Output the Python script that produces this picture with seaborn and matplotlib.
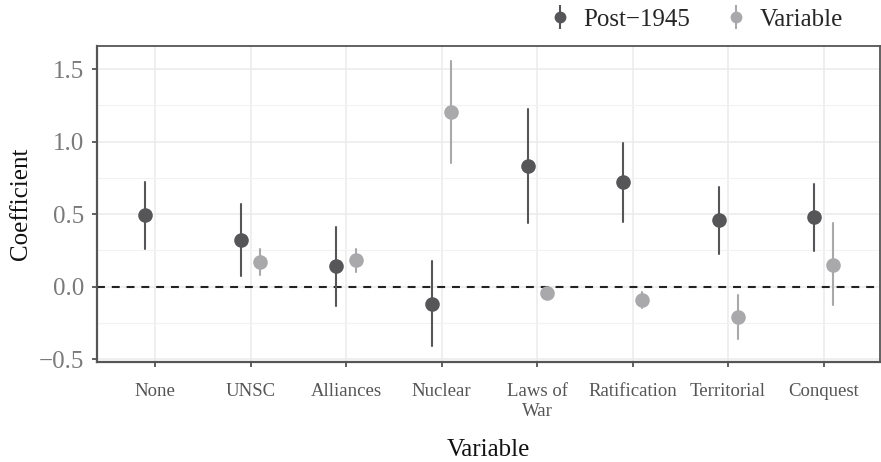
import numpy as np
import pandas as pd
import seaborn as sns
import matplotlib
matplotlib.use("Agg")
import matplotlib.pyplot as plt
from matplotlib.lines import Line2D
from matplotlib.legend_handler import HandlerTuple
from matplotlib.ticker import FixedLocator

# ---- data ----
categories = ["None", "UNSC", "Alliances", "Nuclear", "Laws of\nWar",
              "Ratification", "Territorial", "Conquest"]
series = ["Post\u22121945", "Variable"]

post_est = [0.492, 0.325, 0.140, -0.117, 0.834, 0.724, 0.458, 0.478]
post_lo = [0.263, 0.073, -0.133, -0.412, 0.437, 0.449, 0.224, 0.247]
post_hi = [0.722, 0.572, 0.412, 0.179, 1.228, 0.994, 0.689, 0.710]

var_est = [np.nan, 0.172, 0.183, 1.205, -0.044, -0.089, -0.209, 0.153]
var_lo = [np.nan, 0.078, 0.103, 0.854, -0.060, -0.147, -0.360, -0.128]
var_hi = [np.nan, 0.263, 0.259, 1.555, -0.030, -0.034, -0.060, 0.437]

colors = {"Post\u22121945": "#565658", "Variable": "#a9a9ab"}

rows = []
for s, est, lo, hi in [(series[0], post_est, post_lo, post_hi),
                       (series[1], var_est, var_lo, var_hi)]:
    for c, e, l, h in zip(categories, est, lo, hi):
        if np.isnan(e):
            continue
        for v in (l, e, h):
            rows.append({"Variable": c, "Coefficient": v, "series": s})
df = pd.DataFrame(rows)

# ---- style ----
sns.set_theme(style="white")
plt.rcParams["font.family"] = ["Liberation Serif", "DejaVu Serif"]
plt.rcParams["axes.unicode_minus"] = True

fig = plt.figure(figsize=(8.81, 4.62), dpi=100)
ax = fig.add_axes([97 / 881, 1 - 361.7 / 462, 783 / 881, 316 / 462])

ax.axhline(0, color="#222222", linestyle=(0, (3.8, 3.3)), linewidth=1.5, zorder=1.5)

sns.pointplot(data=df, x="Variable", y="Coefficient", hue="series",
              order=categories, hue_order=series, palette=colors,
              estimator="median", errorbar=("pi", 100), dodge=0.2,
              linestyle="none", markers="o", markersize=10.5,
              markeredgewidth=0, err_kws={"linewidth": 1.5},
              legend=False, ax=ax)

ax.set_xlim(-0.607, 7.59)
ax.set_ylim(-0.517, 1.662)
ax.yaxis.set_major_locator(FixedLocator([-0.5, 0.0, 0.5, 1.0, 1.5]))
ax.yaxis.set_minor_locator(FixedLocator([-0.25, 0.25, 0.75, 1.25]))
ax.set_yticklabels(["\u22120.5", "0.0", "0.5", "1.0", "1.5"])

ax.grid(True, which="major", color="#ebebeb", linewidth=1.1, zorder=0)
ax.grid(True, which="minor", axis="y", color="#f2f2f2", linewidth=0.8, zorder=0)
ax.set_axisbelow(True)

for sp in ax.spines.values():
    sp.set_visible(True)
    sp.set_color("#555555")
    sp.set_linewidth(1.3)
ax.spines["left"].set_linewidth(1.6)
ax.spines["bottom"].set_linewidth(1.6)

ax.tick_params(axis="y", which="major", length=3.5, width=1.2, color="#444444",
               labelsize=18, labelcolor="#7a7a7a", pad=6, left=True)
ax.tick_params(axis="y", which="minor", length=0)
ax.tick_params(axis="x", which="major", length=3.5, width=1.2, color="#444444",
               labelsize=13.5, labelcolor="#555555", pad=12, bottom=True)

ax.set_xlabel("Variable", fontsize=18, color="#111111")
ax.set_ylabel("Coefficient", fontsize=18, color="#111111")
ax.xaxis.set_label_coords(0.5, -0.245)
ax.yaxis.set_label_coords(-0.083, 0.5)

handles = []
for s in series:
    h_line = Line2D([], [], marker="|", markersize=17, markeredgewidth=1.5,
                    color=colors[s], linestyle="none")
    h_dot = Line2D([], [], marker="o", markersize=8.5, markeredgewidth=0,
                   color=colors[s], linestyle="none")
    handles.append((h_line, h_dot))
fig.legend(handles, series, handler_map={tuple: HandlerTuple(ndivide=1)},
           loc="upper right", bbox_to_anchor=(0.982, 1.03), ncol=2,
           frameon=False, fontsize=18, handlelength=0.9, handletextpad=0.5,
           columnspacing=1.35)

fig.savefig("out.png", dpi=100)
